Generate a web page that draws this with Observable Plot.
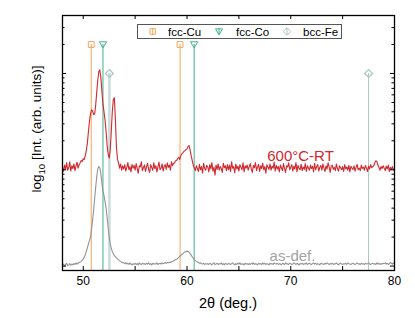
<!DOCTYPE html>
<html><head><meta charset="utf-8">
<script src="https://cdn.jsdelivr.net/npm/d3@7"></script>
<script src="https://cdn.jsdelivr.net/npm/@observablehq/plot@0.6"></script>
<style>body{margin:0;background:#fff}</style>
</head><body><div id="chart"></div>
<script>
// 2θ grid: 48.0 .. 80.0 step 0.1
const thetaStart = 48, thetaStep = 0.1;
// 600°C-RT intensities (arb. units)
const annealed = [
108,96,112,101,118,99,105,121,97,110,
103,115,98,109,120,104,112,118,125,122,
130,128,140,160,190,250,320,380,420,410,
375,380,470,640,850,1050,1090,900,650,480,
400,330,250,180,145,132,160,250,400,540,
560,330,170,130,118,104,115,99,110,102,
113,97,106,119,100,108,95,114,104,111,
99,116,103,92,110,107,121,98,105,112,
96,108,117,101,94,113,106,99,118,103,
110,95,107,120,100,104,115,97,109,113,
101,118,106,112,99,121,110,117,118,124,
125,131,135,128,140,146,150,155,158,162,
165,175,178,160,140,125,112,105,98,110,
103,96,114,100,108,92,117,104,99,111,
107,95,113,102,119,97,106,88,112,101,
115,99,108,103,94,117,105,110,98,113,
100,112,96,121,104,108,93,115,102,109,
97,113,106,100,118,95,110,104,112,99,
108,116,101,94,111,105,119,98,107,114,
96,110,103,117,100,108,92,113,106,101,
115,99,109,104,120,97,111,102,108,95,
112,105,98,116,103,94,110,107,118,100,
106,113,97,109,102,119,95,111,104,100,
114,98,107,101,116,96,110,105,99,112,
103,109,95,117,100,108,113,97,106,111,
99,115,104,96,110,102,118,107,94,109,
112,101,106,98,115,103,97,110,105,100,
108,96,113,102,107,99,111,95,109,104,
101,110,97,106,114,100,104,98,112,103,
107,99,111,104,96,109,102,113,105,108,
110,118,124,122,112,106,99,108,103,110,
104,98,109,102,112,96,106,101,108,99,
103];
// as-def. intensities (arb. units)
const asDeformed = [
10.2,10.5,10.0,10.4,10.7,10.1,10.3,10.6,10.2,10.5,
10.3,10.6,10.4,10.8,10.5,10.7,10.9,11.0,11.2,11.5,
11.8,12.4,13.2,14.3,15.5,17.0,18.5,20.0,24.0,30.0,
38,50,66,85,102,108,105,90,72,60,
54,47,40,32,25,20,17,15.3,14.2,13.4,
12.9,12.5,12.2,11.9,11.6,11.4,11.2,11.0,10.9,10.8,
10.6,10.9,10.5,10.7,10.4,10.8,10.5,10.3,10.6,10.4,
10.7,10.4,10.6,10.3,10.8,10.5,10.4,10.7,10.5,10.6,
10.4,10.7,10.5,10.8,10.4,10.6,10.3,10.7,10.5,10.6,
10.5,10.8,10.4,10.6,10.7,10.5,10.8,10.6,10.7,10.9,
10.7,10.9,10.8,11.0,10.9,11.1,11.2,11.3,11.5,11.7,
11.8,12.0,12.3,12.6,12.9,13.2,13.5,13.8,14.0,14.2,
14.3,14.2,13.9,13.5,13.0,12.5,12.1,11.7,11.4,11.2,
11.0,10.9,10.7,10.8,10.6,10.5,10.7,10.4,10.6,10.5,
10.6,10.4,10.7,10.5,10.3,10.6,10.8,10.4,10.5,10.7,
10.4,10.6,10.5,10.8,10.4,10.6,10.3,10.7,10.5,10.4,
10.7,10.5,10.4,10.6,10.8,10.5,10.3,10.6,10.4,10.7,
10.5,10.8,10.4,10.6,10.5,10.3,10.7,10.5,10.6,10.4,
10.6,10.4,10.7,10.5,10.8,10.4,10.6,10.5,10.3,10.7,
10.5,10.6,10.4,10.8,10.5,10.7,10.4,10.6,10.5,10.3,
10.7,10.5,10.6,10.4,10.8,10.6,10.5,10.7,10.4,10.6,
10.5,10.3,10.7,10.6,10.4,10.8,10.5,10.6,10.4,10.7,
10.6,10.4,10.5,10.8,10.6,10.4,10.7,10.5,10.3,10.6,
10.5,10.7,10.4,10.6,10.5,10.8,10.4,10.6,10.7,10.5,
10.4,10.6,10.8,10.5,10.7,10.4,10.6,10.5,10.3,10.7,
10.6,10.5,10.4,10.7,10.5,10.8,10.6,10.4,10.6,10.5,
10.7,10.4,10.6,10.5,10.8,10.5,10.3,10.6,10.7,10.5,
10.4,10.6,10.5,10.7,10.4,10.8,10.6,10.5,10.4,10.6,
10.7,10.5,10.4,10.6,10.8,10.5,10.6,10.4,10.7,10.5,
10.6,10.4,10.7,10.5,10.6,10.8,10.5,10.4,10.6,10.7,
10.5,10.6,10.4,10.8,10.5,10.7,10.4,10.6,10.5,10.7,
10.6,10.8,10.5,10.7,10.4,10.6,10.9,10.7,10.5,10.8,
10.6];
// reference peak positions (2θ) and marker intensities
const cuPos = [50.77, 59.33];
const cuInt = [2000, 2000];
const coPos = [51.9, 60.69];
const coInt = [2000, 2000];
const fePos = [52.52, 77.5];
const feInt = [1000, 1000];
// ticks
const xMajor = [50, 60, 70, 80];
const xAll = [50, 55, 60, 65, 70, 75, 80];
const yMajor = [10, 100, 1000];
const yMinor = [20,30,40,50,60,70,80,90,200,300,400,500,600,700,800,900,2000,3000,4000];
const xDomain = [48, 80];
const yDomain = [9, 4000];

const colRed = "#d0292f", colGray = "#939393", colCu = "#f6a65a", colCo = "#3db38c", colFe = "#a9c7c3";

const toSeries = arr => arr.map((v, i) => ({x: thetaStart + i * thetaStep, y: v}));
const redData = toSeries(annealed), grayData = toSeries(asDeformed);
const refs = (pos, ints) => pos.map((p, i) => ({x: p, I: ints[i], first: i === 0}));
const cu = refs(cuPos, cuInt), co = refs(coPos, coInt), fe = refs(fePos, feInt);

const triDown = {draw(ctx, size) {
  const s = Math.sqrt(size) * 0.58;
  ctx.moveTo(-s, -s * 0.75); ctx.lineTo(s, -s * 0.75); ctx.lineTo(0, s * 0.95); ctx.closePath();
}};

const W = 415, H = 318, mL = 62, mR = 21, mT = 15, mB = 48;
const pw = W - mL - mR, ph = H - mT - mB;

const chart = Plot.plot({
  width: W, height: H, marginLeft: mL, marginRight: mR, marginTop: mT, marginBottom: mB,
  style: {fontFamily: "Liberation Sans, Arial, sans-serif", fontSize: "12px", color: "#000", background: "white"},
  x: {domain: xDomain, label: null},
  y: {type: "log", domain: yDomain, axis: null},
  marks: [
    Plot.ruleX(fe, {x: "x", y1: yDomain[0], y2: "I", stroke: colFe, strokeWidth: d => d.first ? 2.6 : 1, strokeOpacity: d => d.first ? 0.6 : 1}),
    Plot.ruleX(cu, {x: "x", y1: yDomain[0], y2: "I", stroke: colCu, strokeWidth: 1}),
    Plot.ruleX(co, {x: "x", y1: yDomain[0], y2: "I", stroke: colCo, strokeWidth: 1}),
    Plot.line(grayData, {x: "x", y: "y", stroke: colGray, strokeWidth: 1.1}),
    Plot.line(redData, {x: "x", y: "y", stroke: colRed, strokeWidth: 1.1}),
    Plot.dot(cu, {x: "x", y: "I", symbol: "square", r: 3.3, stroke: colCu, fill: "none", strokeWidth: 1}),
    Plot.dot(co, {x: "x", y: "I", symbol: triDown, r: 3.5, stroke: colCo, fill: "none", strokeWidth: 1}),
    Plot.dot(fe, {x: "x", y: "I", symbol: "diamond2", r: 3.6, stroke: colFe, fill: "none", strokeWidth: 1.2}),
    Plot.text(["600°C-RT"], {x: 70.94, y: 139, text: d => d, fill: colRed, fontSize: 15}),
    Plot.text(["as-def."], {x: 70.17, y: 12.6, text: d => d, fill: "#a3a3a3", fontSize: 15}),
    // inward ticks
    Plot.ruleX(xAll, {x: d => d, insetTop: ph - 4, stroke: "#000"}),
    Plot.ruleX(xAll, {x: d => d, insetBottom: ph - 4, stroke: "#000"}),
    Plot.ruleY(yMajor, {y: d => d, insetRight: pw - 4, stroke: "#000"}),
    Plot.ruleY(yMinor, {y: d => d, insetRight: pw - 2.5, stroke: "#000"}),
    Plot.ruleY(yMajor, {y: d => d, insetLeft: pw - 4, stroke: "#000"}),
    Plot.ruleY(yMinor, {y: d => d, insetLeft: pw - 2.5, stroke: "#000"}),
    Plot.axisX({ticks: xMajor, tickSize: 0, tickPadding: 6, label: null, fontSize: 12}),
    Plot.frame({stroke: "#000", strokeWidth: 1.3})
  ]
});
document.getElementById("chart").appendChild(chart);

const svg = d3.select(chart);
// axis titles
svg.append("text").attr("x", mL + pw / 2).attr("y", 308).attr("text-anchor", "middle")
  .attr("font-size", 14.5).attr("fill", "#000").text("2θ (deg.)");
const yt = svg.append("text").attr("transform", "translate(41,129) rotate(-90)").attr("text-anchor", "middle")
  .attr("font-size", 13.5).attr("fill", "#000");
yt.append("tspan").text("log");
yt.append("tspan").attr("dy", 4).attr("font-size", 9.5).text("10");
yt.append("tspan").attr("dy", -4).text(" [Int. (arb. units)]");

// legend
const lg = svg.append("g");
lg.append("rect").attr("x", 137.5).attr("y", 24.5).attr("width", 204).attr("height", 14)
  .attr("fill", "white").attr("stroke", "#555").attr("stroke-width", 1);
const items = [
  {name: "fcc-Cu", color: colCu, sym: d3.symbolSquare, size: 30, sx: 152.7, tx: 168},
  {name: "fcc-Co", color: colCo, sym: triDown, size: 36, sx: 219, tx: 236},
  {name: "bcc-Fe", color: colFe, sym: d3.symbolDiamond2, size: 36, sx: 287, tx: 303}
];
for (const it of items) {
  lg.append("line").attr("x1", it.sx).attr("x2", it.sx).attr("y1", 28).attr("y2", 35).attr("stroke", it.color);
  lg.append("path").attr("d", d3.symbol(it.sym, it.size)()).attr("transform", `translate(${it.sx},31.5)`)
    .attr("fill", "none").attr("stroke", it.color);
  lg.append("text").attr("x", it.tx).attr("y", 35.5).attr("text-anchor", "start")
    .attr("font-size", 11.5).attr("fill", "#000").text(it.name);
}
</script></body></html>
